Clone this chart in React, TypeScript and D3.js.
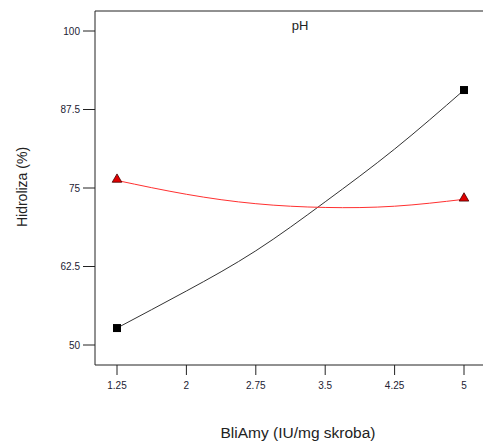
import React from "react";
import * as d3 from "d3";

const xTicks = [1.25, 2, 2.75, 3.5, 4.25, 5];
const yTicks = [50, 62.5, 75, 87.5, 100];
const xTickLabels = ["1.25", "2", "2.75", "3.5", "4.25", "5"];
const yTickLabels = ["50", "62.5", "75", "87.5", "100"];

const curveX = [1.25, 2, 2.75, 3.5, 4.25, 5];
const blackCurve = [52.7, 58.6, 65.0, 72.8, 81.2, 90.6];
const redCurve = [76.2, 74.0, 72.5, 71.9, 72.1, 73.2];

const pointX = [1.25, 5];
const blackPoints = [52.7, 90.6];
const redPoints = [76.2, 73.2];

const title = "pH";
const xLabel = "BliAmy (IU/mg skroba)";
const yLabel = "Hidroliza (%)";

export default function App() {
  const W = 483, H = 444;
  const left = 95, right = 483, top = 11, bottom = 365;
  const x = d3.scaleLinear().domain([1.25, 5]).range([117, 464]);
  const y = d3.scaleLinear().domain([50, 100]).range([345, 31]);
  const line = d3
    .line<number>()
    .x((_, i) => x(curveX[i]))
    .y((d) => y(d))
    .curve(d3.curveNatural);
  const tri = d3.symbol().type(d3.symbolTriangle).size(40)();
  const font = "Liberation Sans, Arial, sans-serif";
  return (
    <svg
      width={W}
      height={H}
      style={{ position: "absolute", left: 0, top: 0, background: "#fff" }}
      fontFamily={font}
    >
      <rect x={0} y={0} width={W} height={H} fill="#fff" />
      <line x1={left} x2={right} y1={top} y2={top} stroke="#222" strokeWidth={1} />
      <line x1={left} x2={left} y1={top} y2={bottom} stroke="#222" strokeWidth={1} />
      <line x1={left} x2={right} y1={bottom} y2={bottom} stroke="#222" strokeWidth={1} />
      {yTicks.map((t, i) => (
        <g key={"y" + i}>
          <line x1={left - 12} x2={left} y1={y(t)} y2={y(t)} stroke="#222" />
          <text x={80} y={y(t)} dy="0.35em" textAnchor="end" fontSize={10} fill="#223">
            {yTickLabels[i]}
          </text>
        </g>
      ))}
      {xTicks.map((t, i) => (
        <g key={"x" + i}>
          <line x1={x(t)} x2={x(t)} y1={bottom} y2={bottom + 10} stroke="#222" />
          <text x={x(t)} y={389} textAnchor="middle" fontSize={10} fill="#223">
            {xTickLabels[i]}
          </text>
        </g>
      ))}
      <text x={300} y={30} textAnchor="middle" fontSize={13} fill="#222">
        {title}
      </text>
      <text x={298} y={438} textAnchor="middle" fontSize={15.5} fill="#222">
        {xLabel}
      </text>
      <text
        transform={`translate(27,187) rotate(-90)`}
        textAnchor="middle"
        fontSize={14}
        fill="#222"
      >
        {yLabel}
      </text>
      <path d={line(blackCurve) || ""} fill="none" stroke="#333" strokeWidth={1} />
      <path d={line(redCurve) || ""} fill="none" stroke="#ff3030" strokeWidth={1} />
      {pointX.map((px, i) => (
        <rect
          key={"b" + i}
          x={x(px) - 4}
          y={y(blackPoints[i]) - 4}
          width={8}
          height={8}
          fill="#000"
        />
      ))}
      {pointX.map((px, i) => (
        <path
          key={"r" + i}
          d={tri || ""}
          transform={`translate(${x(px)},${y(redPoints[i]) - 1})`}
          fill="#e00000"
          stroke="#400"
          strokeWidth={0.8}
        />
      ))}
    </svg>
  );
}
